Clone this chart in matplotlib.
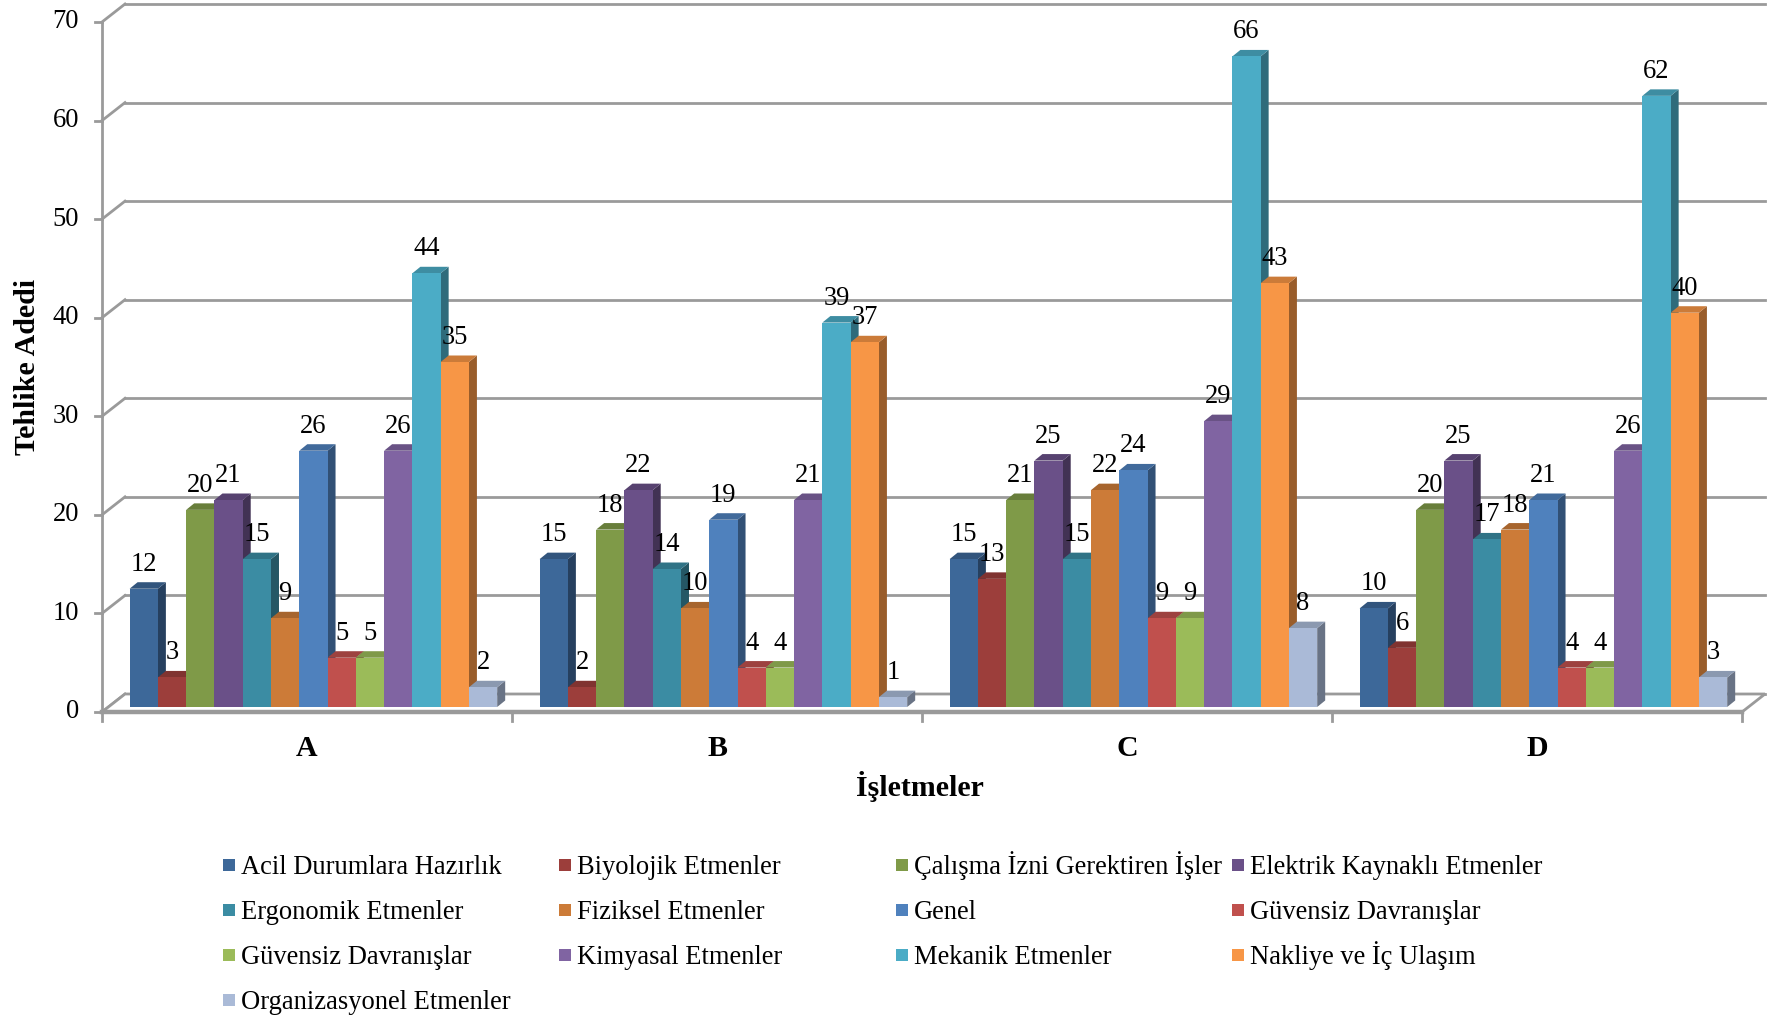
import matplotlib
matplotlib.use("Agg")
import matplotlib.pyplot as plt
from matplotlib.patches import Polygon, Rectangle
from matplotlib.transforms import Affine2D
from matplotlib.colors import to_rgb

plt.rcParams['font.family'] = ['Liberation Serif', 'DejaVu Serif']

# hazard groups (legend order)
series_names = [
    "Acil Durumlara Hazırlık", "Biyolojik Etmenler", "Çalışma İzni Gerektiren İşler",
    "Elektrik Kaynaklı Etmenler", "Ergonomik Etmenler", "Fiziksel Etmenler", "Genel",
    "Güvensiz Davranışlar", "Güvensiz Davranışlar", "Kimyasal Etmenler",
    "Mekanik Etmenler", "Nakliye ve İç Ulaşım", "Organizasyonel Etmenler",
]
series_colors = [
    "#3D6899", "#9C3E3B", "#7F9A48", "#6A5088", "#3B8CA3", "#CC7B38", "#4F81BD",
    "#C0504D", "#9BBB59", "#8064A2", "#4BACC6", "#F79646", "#AABAD7",
]

categories = ["A", "B", "C", "D"]
counts_a = [12, 3, 20, 21, 15, 9, 26, 5, 5, 26, 44, 35, 2]
counts_b = [15, 2, 18, 22, 14, 10, 19, 4, 4, 21, 39, 37, 1]
counts_c = [15, 13, 21, 25, 15, 22, 24, 9, 9, 29, 66, 43, 8]
counts_d = [10, 6, 20, 25, 17, 18, 21, 4, 4, 26, 62, 40, 3]
y_ticks = [0, 10, 20, 30, 40, 50, 60, 70]

by_category = [counts_a, counts_b, counts_c, counts_d]

W, H, DPI = 1771, 1017, 100
GRID = "#9A9A9A"
FS = 19.1
FS_TITLE = 21.5

fig = plt.figure(figsize=(W / DPI, H / DPI), dpi=DPI)
fig.patch.set_facecolor("white")
ax_left, ax_bottom, ax_w, ax_h = 102, H - 712, 1640, 690
ax = fig.add_axes([ax_left / W, ax_bottom / H, ax_w / W, ax_h / H])
ax.set_xlim(-0.5, len(categories) - 0.5)
ax.set_ylim(0, 70)
ax.axis("off")

# pixel -> data unit helpers
px_x = ax_w / len(categories)
px_y = ax_h / 70.0


def dx(p):
    return p / px_x


def dy(p):
    return p / px_y


# oblique 3d offsets (pixels)
back_off = (23, 18)
front_off = (6.4, 5)
depth = (8, 6.5)

x0, x1 = -0.5, len(categories) - 0.5
bx, by = dx(back_off[0]), dy(back_off[1])

# back wall gridlines + left wall diagonals
for v in y_ticks:
    ax.plot([x0 + bx, x1 + bx], [v + by, v + by], color=GRID, lw=2, clip_on=False, zorder=1)
    ax.plot([x0, x0 + bx], [v, v + by], color=GRID, lw=2, clip_on=False, zorder=1)
    ax.plot([x0 - dx(7), x0], [v, v], color=GRID, lw=2, clip_on=False, zorder=2)
    ax.text(x0 - dx(23), v, str(v), ha="right", va="center", fontsize=FS, zorder=2)

# floor
floor = Polygon([(x0, 0), (x1, 0), (x1 + bx, by), (x0 + bx, by)], closed=True,
                facecolor="white", edgecolor=GRID, lw=2, clip_on=False, zorder=2)
ax.add_patch(floor)
ax.plot([x0, x1], [0, 0], color=GRID, lw=3.2, clip_on=False, zorder=3)
ax.plot([x0, x0], [0, 70], color=GRID, lw=2, clip_on=False, zorder=3)
for k in range(len(categories) + 1):
    xt = x0 + k
    ax.plot([xt, xt], [0, -dy(9)], color=GRID, lw=2, clip_on=False, zorder=3)

# bars
n = len(series_names)
w = 1.0 / (n + 1.5)
bar_tr = ax.transData + Affine2D().translate(*front_off)
lbl_tr = bar_tr + Affine2D().translate(0, 18)
ddx, ddy = dx(depth[0]), dy(depth[1])

for i, (name, col) in enumerate(zip(series_names, series_colors)):
    vals = [row[i] for row in by_category]
    xs = [j + (i - (n - 1) / 2) * w for j in range(len(categories))]
    base = to_rgb(col)
    side = tuple(c * 0.62 for c in base)
    top = tuple(c * 0.82 for c in base)
    z = 10 + i
    ax.bar(xs, vals, width=w, color=col, transform=bar_tr, zorder=z + 0.5,
           clip_on=False, linewidth=0)
    for xc, v in zip(xs, vals):
        l, r = xc - w / 2, xc + w / 2
        ax.add_patch(Polygon([(r, 0), (r + ddx, ddy), (r + ddx, v + ddy), (r, v)],
                             closed=True, facecolor=side, lw=0, transform=bar_tr,
                             clip_on=False, zorder=z))
        ax.add_patch(Polygon([(l, v), (r, v), (r + ddx, v + ddy), (l + ddx, v + ddy)],
                             closed=True, facecolor=top, lw=0, transform=bar_tr,
                             clip_on=False, zorder=z))
        ax.text(xc, v, str(v), transform=lbl_tr, ha="center", va="baseline",
                fontsize=FS, zorder=100)

# category labels and axis titles
for j, cat in enumerate(categories):
    ax.text(j, 0, cat, transform=ax.transData + Affine2D().translate(0, -36),
            ha="center", va="center", fontsize=FS_TITLE, fontweight="bold")
fig.text(920 / W, 1 - 787 / H, "İşletmeler", ha="center", va="center",
         fontsize=FS_TITLE, fontweight="bold")
fig.text(28 / W, 1 - 367 / H, "Tehlike Adedi", ha="center", va="center",
         rotation=90, fontsize=FS_TITLE, fontweight="bold")

# legend, filled row by row in 4 columns
col_x = [222.5, 559, 896, 1232]
row_y = [865, 910, 955, 1000]
sq = 12
for k, (name, col) in enumerate(zip(series_names, series_colors)):
    r, c = divmod(k, 4)
    mx, my = col_x[c], row_y[r]
    fig.patches.append(Rectangle((mx / W, 1 - (my + sq / 2) / H), sq / W, sq / H,
                                 transform=fig.transFigure, facecolor=col, lw=0))
    fig.text((mx + 18) / W, 1 - (my + 9) / H, name, ha="left", va="baseline",
             fontsize=FS)

fig.savefig("out.png", dpi=DPI, facecolor="white")
